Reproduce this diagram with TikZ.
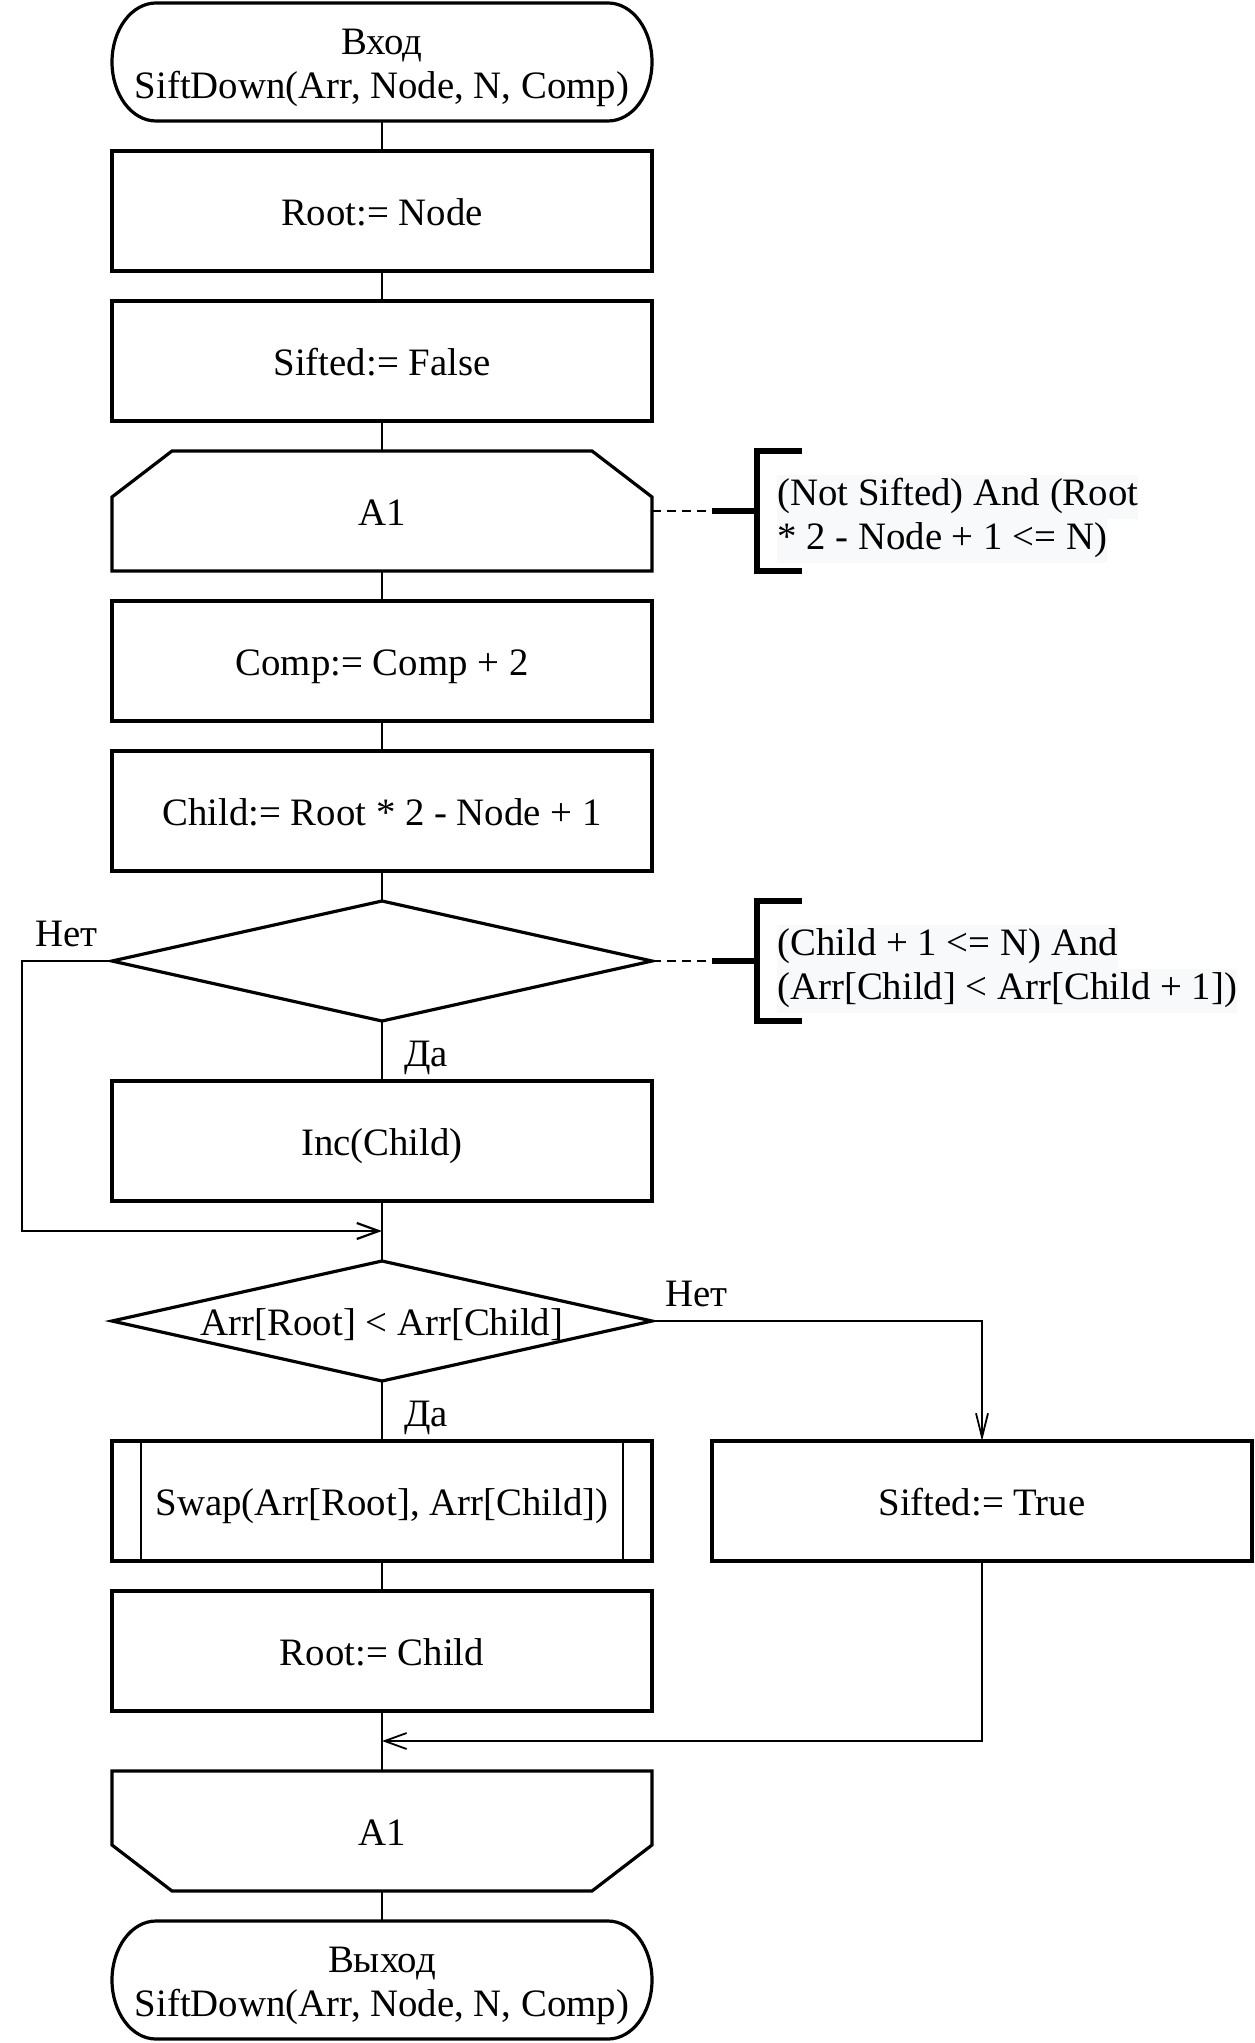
\documentclass[tikz,border=0pt]{standalone}
\usepackage{fontspec}
\setmainfont{Liberation Serif}
\usetikzlibrary{positioning,calc,shapes.geometric,arrows.meta}
\definecolor{commentbg}{RGB}{248,249,250}
\setlength{\fboxsep}{0pt}
\newcommand{\notebox}[1]{\colorbox{commentbg}{\strut #1}}
% outlines of the shapes that TikZ has no ready node for
\newcommand{\termframe}[1]{%
    \draw[shape line] ([xshift=22pt]#1.north west) -- ([xshift=-22pt]#1.north east)
        arc[start angle=90,end angle=-90,x radius=22pt,y radius=29.5pt]
        -- ([xshift=22pt]#1.south west)
        arc[start angle=270,end angle=90,x radius=22pt,y radius=29.5pt] -- cycle;}
\newcommand{\loopopenframe}[1]{%
    \draw[shape line] (#1.south west) -- ([yshift=-23pt]#1.north west) -- ([xshift=30pt]#1.north west)
        -- ([xshift=-30pt]#1.north east) -- ([yshift=-23pt]#1.north east) -- (#1.south east) -- cycle;}
\newcommand{\loopcloseframe}[1]{%
    \draw[shape line] (#1.north west) -- ([yshift=23pt]#1.south west) -- ([xshift=30pt]#1.south west)
        -- ([xshift=-30pt]#1.south east) -- ([yshift=23pt]#1.south east) -- (#1.north east) -- cycle;}
\tikzset{
    flow text/.style={font=\fontsize{19.4}{22}\selectfont},
    box text/.style={flow text, text height=16pt, text depth=1.5pt},
    process/.style={
        rectangle,
        draw,
        line width=1.6pt,
        minimum width=270pt,
        minimum height=60pt,
        inner sep=0pt,
        outer sep=0pt,
        align=center,
        box text
    },
    subprocess/.style={
        process,
        path picture={
            \draw[line width=1.2pt] ([xshift=14.5pt]path picture bounding box.north west) -- ([xshift=14.5pt]path picture bounding box.south west)
                ([xshift=-14.5pt]path picture bounding box.north east) -- ([xshift=-14.5pt]path picture bounding box.south east);
        }
    },
    terminal/.style={rectangle, minimum width=270pt, minimum height=59pt, inner sep=0pt, outer sep=0pt, align=center, flow text},
    terminal label/.style={flow text, inner sep=0pt, text height=16pt, text depth=1.5pt},
    loop bound/.style={rectangle, minimum width=270pt, minimum height=60pt, inner sep=0pt, outer sep=0pt, box text},
    decision/.style={
        diamond,
        draw,
        line width=1.6pt,
        aspect=4.5,
        minimum width=270pt,
        minimum height=60pt,
        inner sep=0pt,
        outer sep=0pt,
        box text
    },
    shape line/.style={line width=1.6pt, line join=miter},
    flow line/.style={line width=1.1pt},
    flow arrow/.style={flow line, -{Straight Barb[length=11pt,width=8pt]}},
    branch arrow/.style={line width=0.9pt, -{Straight Barb[length=12pt,width=6pt]}},
    branch label/.style={flow text, inner sep=0pt},
    comment line/.style={line width=1.1pt, dash pattern=on 4.5pt off 3pt},
    comment bracket/.style={line width=3pt, line join=miter},
    comment text/.style={flow text, align=left, inner sep=0pt}
}
\begin{document}
\begin{tikzpicture}
    \useasboundingbox (0,0) rectangle (627pt,-1021.5pt);

    % main column
    \node[terminal] (start) at (191pt,-31pt) {};
    \node[process, below=15pt of start] (rootset) {Root:= Node};
    \node[process, below=15pt of rootset] (siftfalse) {Sifted:= False};
    \node[loop bound, below=15pt of siftfalse] (loopbegin) {A1};
    \node[process, below=15pt of loopbegin] (compinc) {Comp:= Comp + 2};
    \node[process, below=15pt of compinc] (childset) {Child:= Root * 2 - Node + 1};
    \node[decision, below=15pt of childset] (rightcheck) {};
    \node[process, below=30pt of rightcheck] (childinc) {Inc(Child)};
    \node[decision, below=30pt of childinc] (swapcheck) {Arr[Root] < Arr[Child]};
    \node[subprocess, below=30pt of swapcheck] (swapcall) {Swap(Arr[Root], Arr[Child])};
    \node[process, right=30pt of swapcall] (sifttrue) {Sifted:= True};
    \node[process, below=15pt of swapcall] (rootchild) {Root:= Child};
    \node[loop bound, below=30pt of rootchild] (loopend) {A1};
    \node[terminal, below=15pt of loopend] (stop) {};

    % two lines of the terminals
    \node[terminal label] (starttitle) at ($(start.center)+(0,10.8pt)$) {Вход};
    \node[terminal label] (startcall) at ($(start.center)+(0,-11.2pt)$) {SiftDown(Arr, Node, N, Comp)};
    \node[terminal label] (stoptitle) at ($(stop.center)+(0,10.8pt)$) {Выход};
    \node[terminal label] (stopcall) at ($(stop.center)+(0,-11.2pt)$) {SiftDown(Arr, Node, N, Comp)};

    \termframe{start}
    \termframe{stop}
    \loopopenframe{loopbegin}
    \loopcloseframe{loopend}

    % straight connectors
    \foreach \a/\b in {start/rootset, rootset/siftfalse, siftfalse/loopbegin, loopbegin/compinc,
                       compinc/childset, childset/rightcheck, rightcheck/childinc, childinc/swapcheck,
                       swapcheck/swapcall, swapcall/rootchild, rootchild/loopend, loopend/stop}
        \draw[flow line] (\a.south) -- (\b.north);

    \coordinate (joinA) at ($(childinc.south)!0.5!(swapcheck.north)$);
    \coordinate (joinB) at ($(rootchild.south)!0.5!(loopend.north)$);

    % branches
    \draw[flow arrow] (rightcheck.west) -- ++(-45pt,0) |- (joinA);
    \draw[branch arrow] (swapcheck.east) -| (sifttrue.north);
    \draw[line width=0.9pt, -{Straight Barb[length=11pt,width=8pt]}] (sifttrue.south) |- (joinB);

    \node[branch label, anchor=base west] (noA) at ($(rightcheck.west)+(-38.5pt,7.5pt)$) {Нет};
    \node[branch label, anchor=west] (yesA) at ($(rightcheck.south)!0.5!(childinc.north)+(11pt,-3.5pt)$) {Да};
    \node[branch label, anchor=base west] (noB) at ($(swapcheck.east)+(6.5pt,7.5pt)$) {Нет};
    \node[branch label, anchor=west] (yesB) at ($(swapcheck.south)!0.5!(swapcall.north)+(11pt,-3.5pt)$) {Да};

    % comments
    \draw[comment line] (loopbegin.east) -- ++(30pt,0) coordinate (noteAjoin);
    \draw[comment bracket] (noteAjoin) -- ++(22.5pt,0) coordinate (noteAmid);
    \draw[comment bracket] ($(noteAmid)+(22.5pt,30pt)$) -- ++(-22.5pt,0) -- ++(0,-60pt) -- ++(22.5pt,0);
    \node[comment text, anchor=west] (noteA) at ($(noteAmid)+(10pt,-4pt)$) {\notebox{(Not Sifted) And (Root}\\\notebox{* 2 - Node + 1 <= N)}};

    \draw[comment line] (rightcheck.east) -- ++(30pt,0) coordinate (noteBjoin);
    \draw[comment bracket] (noteBjoin) -- ++(22.5pt,0) coordinate (noteBmid);
    \draw[comment bracket] ($(noteBmid)+(22.5pt,30pt)$) -- ++(-22.5pt,0) -- ++(0,-60pt) -- ++(22.5pt,0);
    \node[comment text, anchor=west] (noteB) at ($(noteBmid)+(10pt,-4pt)$) {\notebox{(Child + 1 <= N) And}\\\notebox{(Arr[Child] < Arr[Child + 1])}};
\end{tikzpicture}
\end{document}
